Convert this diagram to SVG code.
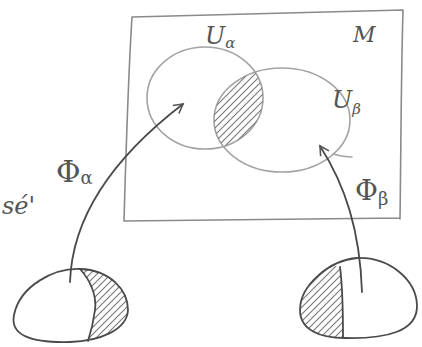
<svg xmlns="http://www.w3.org/2000/svg" width="422" height="347" viewBox="0 0 422 347">
<style>
.pen{fill:none;stroke-linecap:round;stroke-linejoin:round}
.rect{stroke:#8a8a8a;stroke-width:1.6}
.light{stroke:#a3a3a3;stroke-width:1.6}
.dark{stroke:#4a4a4a;stroke-width:1.8}
.hatch{fill:url(#hatch)}
.lbl{font-family:"DejaVu Serif","Liberation Serif",serif;font-style:italic;fill:#555}
.up{font-style:normal}
</style>
<defs>
<pattern id="hatch" patternUnits="userSpaceOnUse" width="7" height="7">
<path d="M-2,9 L9,-2 M-5,5 L5,-5 M2,12 L12,2" stroke="#777" stroke-width="1.1"/>
</pattern>
<clipPath id="clipA"><ellipse cx="205" cy="98" rx="58" ry="51"/></clipPath>
<clipPath id="clipL"><path d="M80,269 C90,280 97,295 95,310 C93,325 90,335 88,341 L140,341 L140,260 Z"/></clipPath>
<clipPath id="clipR"><path d="M340,267 C343,290 343,315 343,337 L290,340 L290,255 Z"/></clipPath>
<marker id="open" viewBox="0 0 12 12" refX="10" refY="6" markerWidth="12" markerHeight="12" markerUnits="userSpaceOnUse" orient="auto">
<path d="M1,1 L10,6 L1,11" fill="none" stroke="#555" stroke-width="1.6"/>
</marker>
</defs>

<g id="manifold">
<path class="pen rect" d="M132,17 L403,10 M403,10 C401,80 401,150 400,219 M124,221 L400,218 M132,17 C128,80 126,150 124,221"/>
<text class="lbl" x="353" y="42" font-size="22">M</text>
</g>

<g id="U_alpha">
<ellipse class="pen light" cx="205" cy="98" rx="58" ry="51"/>
<text class="lbl" x="205" y="44" font-size="24">U<tspan font-size="15" dy="4">α</tspan></text>
</g>

<g id="U_beta">
<ellipse class="pen light" cx="282" cy="120" rx="68" ry="52"/>
<path class="pen light" d="M333,154 C340,156 346,157 352,157"/>
<text class="lbl" x="332" y="108" font-size="24">U<tspan font-size="15" dy="6">β</tspan></text>
</g>

<g id="overlap">
<ellipse class="hatch" clip-path="url(#clipA)" cx="282" cy="120" rx="68" ry="52"/>
</g>

<g id="chart_alpha">
<path class="hatch" clip-path="url(#clipL)" d="M80,269 C55,268 20,285 14,315 C10,335 30,343 70,342 C100,341 127,330 128,310 C128,290 110,270 80,269 Z"/>
<path class="pen dark" d="M80,269 C55,268 20,285 14,315 C10,335 30,343 70,342 C100,341 127,330 128,310 C128,290 110,270 80,269 Z"/>
<path class="pen dark" d="M80,269 C90,280 97,295 95,310 C93,325 90,335 88,341"/>
</g>

<g id="chart_beta">
<path class="hatch" clip-path="url(#clipR)" d="M357,258 C330,260 300,285 300,310 C300,330 320,338 345,338 C385,339 418,332 417,305 C416,280 390,257 357,258 Z"/>
<path class="pen dark" d="M357,258 C330,260 300,285 300,310 C300,330 320,338 345,338 C385,339 418,332 417,305 C416,280 390,257 357,258 Z"/>
<path class="pen dark" d="M340,267 C343,290 343,315 343,337"/>
</g>

<g id="connectors">
<path class="pen dark" d="M70,282 C72,220 110,160 183,104" marker-end="url(#open)"/>
<path class="pen dark" d="M362,292 C360,230 345,185 320,146" marker-end="url(#open)"/>
<text class="lbl up" x="56" y="182" font-size="30">Φ<tspan font-size="18" dy="2">α</tspan></text>
<text class="lbl up" x="355" y="200" font-size="28">Φ<tspan font-size="18" dy="5">β</tspan></text>
</g>

<text class="lbl" x="2" y="214" font-size="24">sé'</text>
</svg>
